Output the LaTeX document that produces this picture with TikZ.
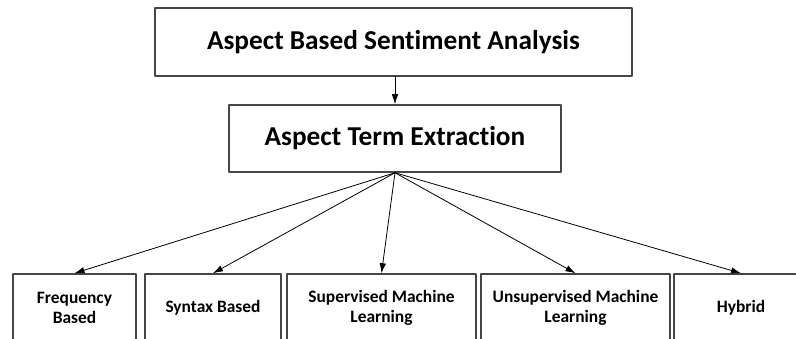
\documentclass[tikz,border=0pt]{standalone}
\usepackage{fontspec}
\setmainfont{Carlito}[Ligatures=NoCommon]
\usetikzlibrary{arrows.meta,positioning}
\definecolor{boxgray}{RGB}{70,70,70}

\begin{document}
\begin{tikzpicture}[x=1pt,y=-1pt,>={Latex[length=10pt,width=6.5pt]},
                    line cap=round,line join=round]
  \tikzset{
    headbox/.style={draw=boxgray,line width=1.5pt,inner sep=0pt,
                    font=\fontsize{27.3}{31}\selectfont\bfseries},
    leafbox/.style={draw=boxgray,line width=1.5pt,inner sep=0pt,
                    minimum height=68pt,align=center,
                    font=\fontsize{17.4}{20.5}\selectfont\bfseries},
    link/.style={->,black,line width=0.8pt}
  }
  \useasboundingbox (0,0) rectangle (796,339);
  % Kopf und Teilaufgabe
  \node[headbox,minimum width=477pt,minimum height=68pt]
       (absa) at (393.5,42) {Aspect Based Sentiment Analysis};
  \node[headbox,minimum width=332pt,minimum height=67pt]
       (ate) at (395,138.5) {Aspect Term Extraction};
  % Fünf Verfahrensklassen unten (unten abgeschnitten)
  \node[leafbox,minimum width=123pt] (freq)  at (74.5,308)
       {Frequency\\Based};
  \node[leafbox,minimum width=136pt] (synt)  at (213,308)
       {Syntax Based};
  \node[leafbox,minimum width=189pt] (sup)   at (381.5,308)
       {Supervised Machine\\Learning};
  \node[leafbox,minimum width=189pt] (unsup) at (575.5,308)
       {Unsupervised Machine\\Learning};
  \node[leafbox,minimum width=134pt] (hyb)   at (741,308)
       {Hybrid};
  % Pfeile
  \draw[link] (absa.south -| ate.north) -- (ate.north);
  \foreach \t in {freq,synt,sup,unsup,hyb}
    \draw[link] (ate.south) -- (\t.north);
\end{tikzpicture}
\end{document}
